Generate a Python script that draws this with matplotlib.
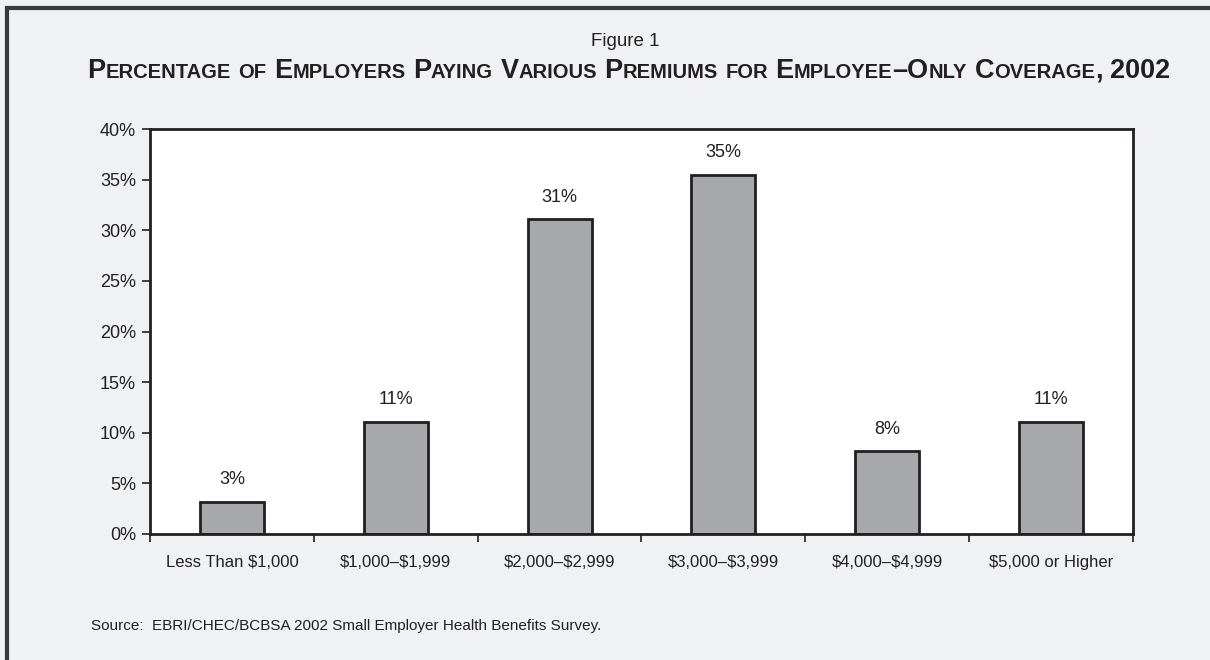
import matplotlib
matplotlib.use("Agg")
import matplotlib.pyplot as plt
import numpy as np
from matplotlib.offsetbox import HPacker, TextArea, AnnotationBbox
from matplotlib.patches import Rectangle

categories = ["Less Than \\$1,000", "\\$1,000\u2013\\$1,999", "\\$2,000\u2013\\$2,999",
              "\\$3,000\u2013\\$3,999", "\\$4,000\u2013\\$4,999", "\\$5,000 or Higher"]
values = [3.2, 11.1, 31.1, 35.5, 8.2, 11.1]
value_labels = ["3%", "11%", "31%", "35%", "8%", "11%"]
yticks = [0, 5, 10, 15, 20, 25, 30, 35, 40]

plt.rcParams['font.family'] = ['Liberation Sans Narrow', 'Liberation Sans', 'DejaVu Sans']
bg = '#f0f1f3'
txt = '#231f20'

fig = plt.figure(figsize=(12.1, 6.6), dpi=100, facecolor=bg)
ax = fig.add_axes([150 / 1210, 1 - 534 / 660, 983 / 1210, 405 / 660])
ax.set_facecolor('white')

x = np.arange(len(categories))
ax.bar(x, values, width=0.39, color='#a7a8ac', edgecolor=txt, linewidth=2, zorder=2)
for xi, v, lab in zip(x, values, value_labels):
    ax.text(xi, v + 1.3, lab, ha='center', va='bottom', fontsize=13, color=txt)

ax.set_xlim(-0.5, len(categories) - 0.5)
ax.set_ylim(0, 40)
ax.set_yticks(yticks)
ax.set_yticklabels([f"{t}%" for t in yticks], fontsize=13, color=txt)
ax.set_xticks(np.arange(len(categories) + 1) - 0.5)
ax.set_xticklabels([])
ax.set_xticks(x, minor=True)
ax.set_xticklabels(categories, minor=True, fontsize=12, color=txt)
ax.tick_params(axis='x', which='minor', length=0, pad=15)
ax.tick_params(axis='x', which='major', length=6, width=1.2, color=txt)
ax.tick_params(axis='y', length=6, width=1.2, color=txt, pad=4)
for s in ax.spines.values():
    s.set_linewidth(2)
    s.set_color(txt)

# figure border (right and bottom fall outside the image)
fig.patches.append(Rectangle((7 / 1210, -0.1), 1.2, 1 - 8 / 660 + 0.1,
                             transform=fig.transFigure, fill=False,
                             edgecolor='#3a3a3a', linewidth=3))

fig.text(625 / 1210, 1 - 41 / 660, "Figure 1", ha='center', va='center', fontsize=13.5, color=txt)

# small-caps title
title_words = ["Percentage", "of", "Employers", "Paying", "Various", "Premiums",
               "for", "Employee\u2013Only", "Coverage,", "2002"]
big, small = 19.5, 14.5
parts = []
for i, w in enumerate(title_words):
    word = w if i == len(title_words) - 1 else w + " "
    j = 0
    while j < len(word):
        ch = word[j]
        if ch.islower():
            k = j
            while k < len(word) and word[k].islower():
                k += 1
            parts.append((word[j:k].upper(), small))
            j = k
        else:
            parts.append((ch, big))
            j += 1
areas = [TextArea(s, textprops=dict(fontsize=sz, fontweight='bold', color=txt))
         for s, sz in parts]
box = HPacker(children=areas, align='baseline', pad=0, sep=0)
ab = AnnotationBbox(box, (629 / 1210, 1 - 71 / 660), xycoords='figure fraction',
                    frameon=False, box_alignment=(0.5, 0.5))
fig.add_artist(ab)

fig.text(91 / 1210, 1 - 626 / 660, "Source:  EBRI/CHEC/BCBSA 2002 Small Employer Health Benefits Survey.",
         ha='left', va='center', fontsize=11, color=txt)

fig.savefig("out.png", dpi=100, facecolor=bg)
